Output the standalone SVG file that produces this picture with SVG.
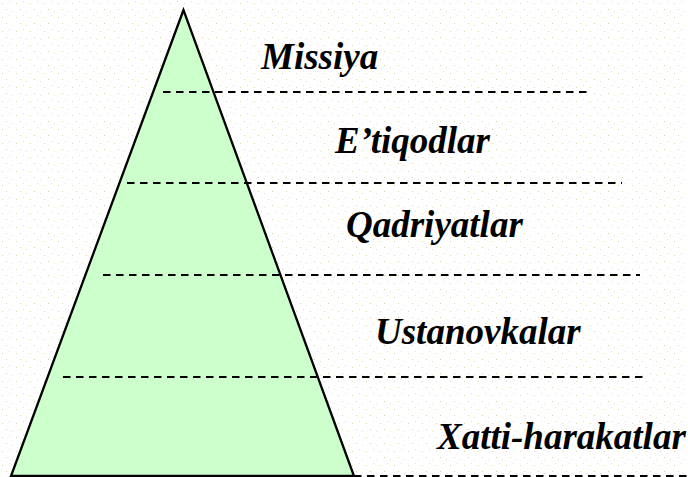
<svg xmlns="http://www.w3.org/2000/svg" width="688" height="477" viewBox="0 0 688 477">
<style>
.lbl{font-family:"Liberation Serif","Times New Roman",serif;font-weight:bold;font-style:italic;font-size:37px;fill:#000}
.dash{stroke:#000;stroke-width:2.2;stroke-dasharray:7.5 5.5;fill:none}
</style>
<defs>
<pattern id="tex" width="14" height="14" patternUnits="userSpaceOnUse">
<rect x="2" y="3" width="1" height="1" fill="#dcd8b0"/>
<rect x="9" y="1" width="1" height="1" fill="#e6e3c8"/>
<rect x="6" y="9" width="1" height="1" fill="#d8d4a8"/>
<rect x="12" y="11" width="1" height="1" fill="#e8e5cc"/>
</pattern>
</defs>
<rect width="688" height="477" fill="#fff"/>
<rect width="688" height="477" fill="url(#tex)"/>
<g id="pyramid">
<polygon points="183.5,10 11,476 354,476" fill="#ccffcc" stroke="#000" stroke-width="2.3" stroke-linejoin="miter"/>
</g>
<g id="connectors">
<line class="dash" x1="163" y1="92" x2="592" y2="92"/>
<line class="dash" x1="127" y1="183" x2="622" y2="183"/>
<line class="dash" x1="103" y1="275" x2="640" y2="275"/>
<line class="dash" x1="63" y1="377" x2="643" y2="377"/>
<line class="dash" x1="354" y1="476" x2="688" y2="476"/>
</g>
<g id="missiya"><text class="lbl" x="261" y="69">Missiya</text></g>
<g id="etiqodlar"><text class="lbl" x="335" y="153">E’tiqodlar</text></g>
<g id="qadriyatlar"><text class="lbl" x="346" y="237">Qadriyatlar</text></g>
<g id="ustanovkalar"><text class="lbl" x="375" y="344">Ustanovkalar</text></g>
<g id="xatti"><text class="lbl" x="437" y="449">Xatti-harakatlar</text></g>
</svg>
